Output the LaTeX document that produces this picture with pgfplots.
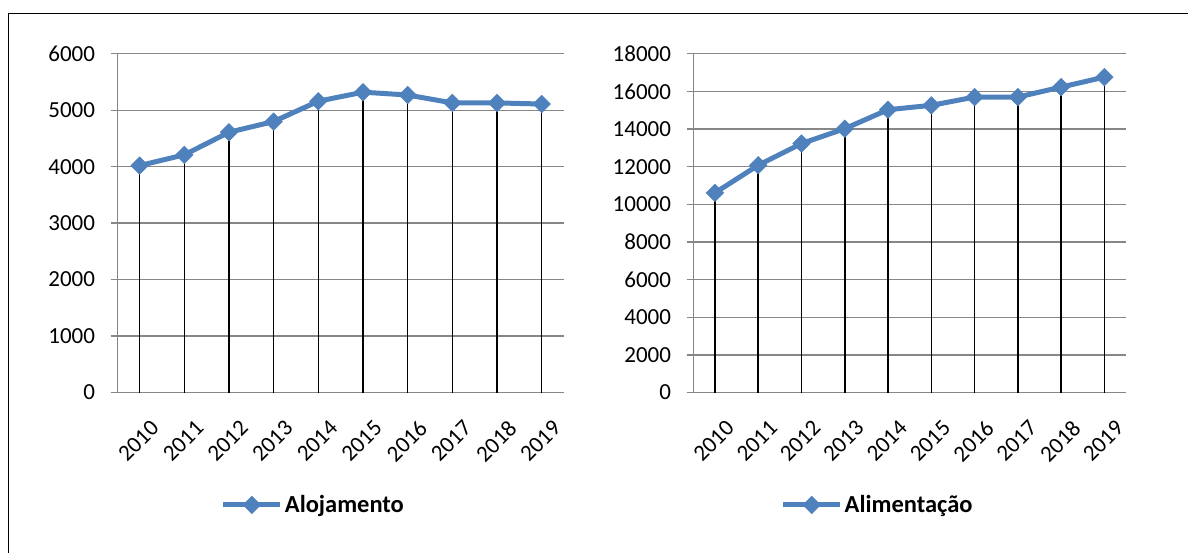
\documentclass[border=0pt]{standalone}
\usepackage{fontspec}
\setmainfont{Carlito}
\usepackage{pgfplots}
\pgfplotsset{compat=1.18}
\definecolor{seriecol}{HTML}{4F81BD}
\definecolor{gridc}{HTML}{878787}
\newcommand{\tickfont}{\fontsize{23}{27}\selectfont}
\pgfplotsset{
  excel/.style={
    scale only axis,
    height=338.7pt,
    xmin=-0.5, xmax=9.5, ymin=0,
    axis x line*=bottom, axis y line*=left,
    axis line style={gridc, line width=1.3pt, -},
    xtick={0,...,9},
    xticklabels={2010,2011,2012,2013,2014,2015,2016,2017,2018,2019},
    major x tick style={draw=none},
    ytick style={gridc, line width=1.3pt},
    tick align=outside,
    major tick length=6.6pt,
    ymajorgrids,
    major grid style={gridc, line width=1.3pt},
    scaled y ticks=false,
    yticklabel={\tickfont\pgfmathprintnumber[assume math mode=true,1000 sep={}]{\tick}},
    yticklabel style={inner sep=0pt, xshift=-15.5pt},
    xticklabel style={font=\tickfont, rotate=45, anchor=north east, inner sep=0pt, yshift=-21pt, xshift=-7pt},
    legend style={draw=none, fill=none, font=\fontsize{24.5}{29}\selectfont\bfseries, inner sep=0pt},
    legend image code/.code={
      \draw[#1, mark repeat=2, mark phase=2] plot coordinates {(0pt,0pt) (28.5pt,0pt) (57pt,0pt)};
    },
    legend cell align=left,
  },
  myserie/.style={seriecol, line width=5pt, mark=square*, mark size=6.2pt,
    mark options={rotate=45, line width=0.5pt, fill=seriecol, draw=seriecol, solid}},
  mydrop/.style={ycomb, black, line width=1.5pt, mark=none, forget plot},
}
\begin{document}
\begin{tikzpicture}[x=1pt,y=1pt]
\useasboundingbox (0,0) rectangle (1188,552);
\draw[black, line width=1.5pt] (8.3,538.7) -- (1190,538.7);
\draw[black, line width=1.5pt] (8.3,539.4) -- (8.3,-2);

\begin{axis}[excel, at={(117.3pt,159.5pt)}, anchor=south west, width=446.7pt,
  ymax=6000, ytick={0,1000,...,6000},
  legend style={at={(0.439,-0.332)}, anchor=center}]
\addplot[myserie] coordinates {(0,4020) (1,4210) (2,4610) (3,4800) (4,5160) (5,5320) (6,5270) (7,5130) (8,5130) (9,5110)};
\addlegendentry{Alojamento}
\addplot[mydrop] coordinates {(0,4020) (1,4210) (2,4610) (3,4800) (4,5160) (5,5320) (6,5270) (7,5130) (8,5130) (9,5110)};
\end{axis}

\begin{axis}[excel, at={(693.3pt,159.5pt)}, anchor=south west, width=432.7pt,
  ymax=18000, ytick={0,2000,...,18000},
  legend style={at={(0.426,-0.332)}, anchor=center}]
\addplot[myserie] coordinates {(0,10610) (1,12080) (2,13230) (3,14020) (4,15030) (5,15260) (6,15700) (7,15700) (8,16230) (9,16760)};
\addlegendentry{Alimentação}
\addplot[mydrop] coordinates {(0,10610) (1,12080) (2,13230) (3,14020) (4,15030) (5,15260) (6,15700) (7,15700) (8,16230) (9,16760)};
\end{axis}
\end{tikzpicture}
\end{document}
